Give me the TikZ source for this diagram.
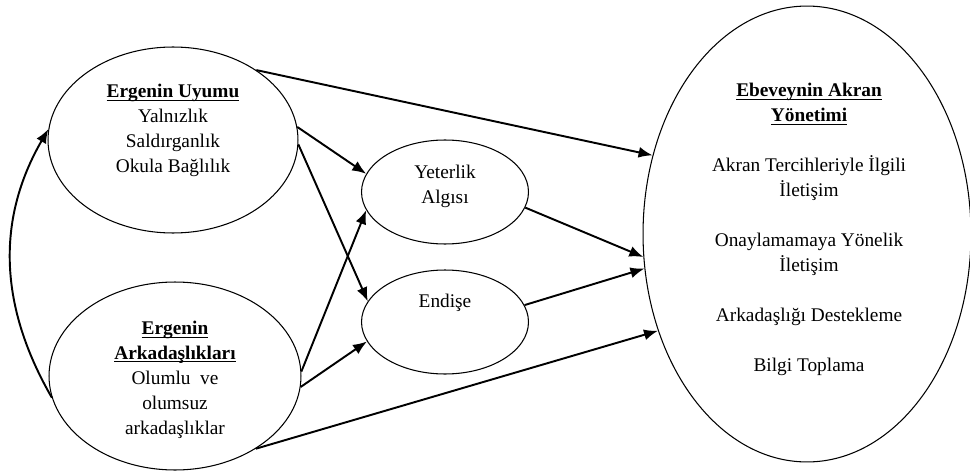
\documentclass[tikz,border=0pt]{standalone}
\usepackage{fontspec}
\setmainfont{Liberation Serif}
\usetikzlibrary{shapes.geometric,arrows.meta}

\newcommand{\baslik}[1]{\underline{\smash{\textbf{#1}}}\vphantom{\textbf{Ay}}}

\begin{document}
\begin{tikzpicture}[x=0.02cm, y=0.02cm,
    oval/.style={ellipse, draw, line width=0.6pt, inner sep=0pt},
    yazi/.style={align=center, font=\fontsize{11}{14.2}\selectfont},
    ok/.style={-{Latex[length=2.8mm,width=2.2mm]}, line width=1.1pt}]

    \useasboundingbox (0,0) rectangle (970,-473);

    % ovals
    \node [oval, minimum width=5cm, minimum height=3.72cm] (uyum) at (173,-140) {};
    \node [oval, minimum width=5.04cm, minimum height=3.76cm] (arkadas) at (175,-376) {};
    \node [oval, minimum width=3.34cm, minimum height=2.08cm] (yeterlik) at (445,-192) {};
    \node [oval, minimum width=3.34cm, minimum height=2.08cm] (endise) at (445,-322) {};
    \node [oval, minimum width=6.56cm, minimum height=9.12cm] (yonetim) at (807,-234) {};

    % texts
    \node [yazi] (uyumyazi) at (173,-131) {\baslik{Ergenin Uyumu}\\ Yalnızlık\\ Saldırganlık\\ Okula Bağlılık};
    \node [yazi] (arkadasyazi) at (175,-380) {\baslik{Ergenin}\\ \baslik{Arkadaşlıkları}\\ Olumlu\ \ ve\\ olumsuz\\ arkadaşlıklar};
    \node [yazi] (yeterlikyazi) at (445,-186) {Yeterlik\\ Algısı};
    \node [yazi] (endiseyazi) at (445,-303) {Endişe};
    \node [yazi] (yonetimyazi) at (809,-230) {\baslik{Ebeveynin Akran}\\ \baslik{Yönetimi}\\[0.5cm]
        Akran Tercihleriyle İlgili\\ İletişim\\[0.5cm]
        Onaylamamaya Yönelik\\ İletişim\\[0.5cm]
        Arkadaşlığı Destekleme\\[0.5cm]
        Bilgi Toplama};

    % arrows
    \draw [ok] (uyum.40) -- (yonetim.153);
    \draw [ok] (uyum.6) -- (yeterlik.167);
    \draw [ok] (uyum.-2) -- (endise.165);
    \draw [ok] (arkadas.2) -- (yeterlik.193);
    \draw [ok] (arkadas.-5) -- (endise.194);
    \draw [ok] (arkadas.-42) -- (yonetim.213);
    \draw [ok] (yeterlik.-11) -- (yonetim.188);
    \draw [ok] (endise.12) -- (yonetim.192);

    \draw [ok, {Latex[length=2.8mm,width=2.2mm]}-] (uyum.175) to [out=240, in=120, looseness=1] (arkadas.190);

\end{tikzpicture}
\end{document}
